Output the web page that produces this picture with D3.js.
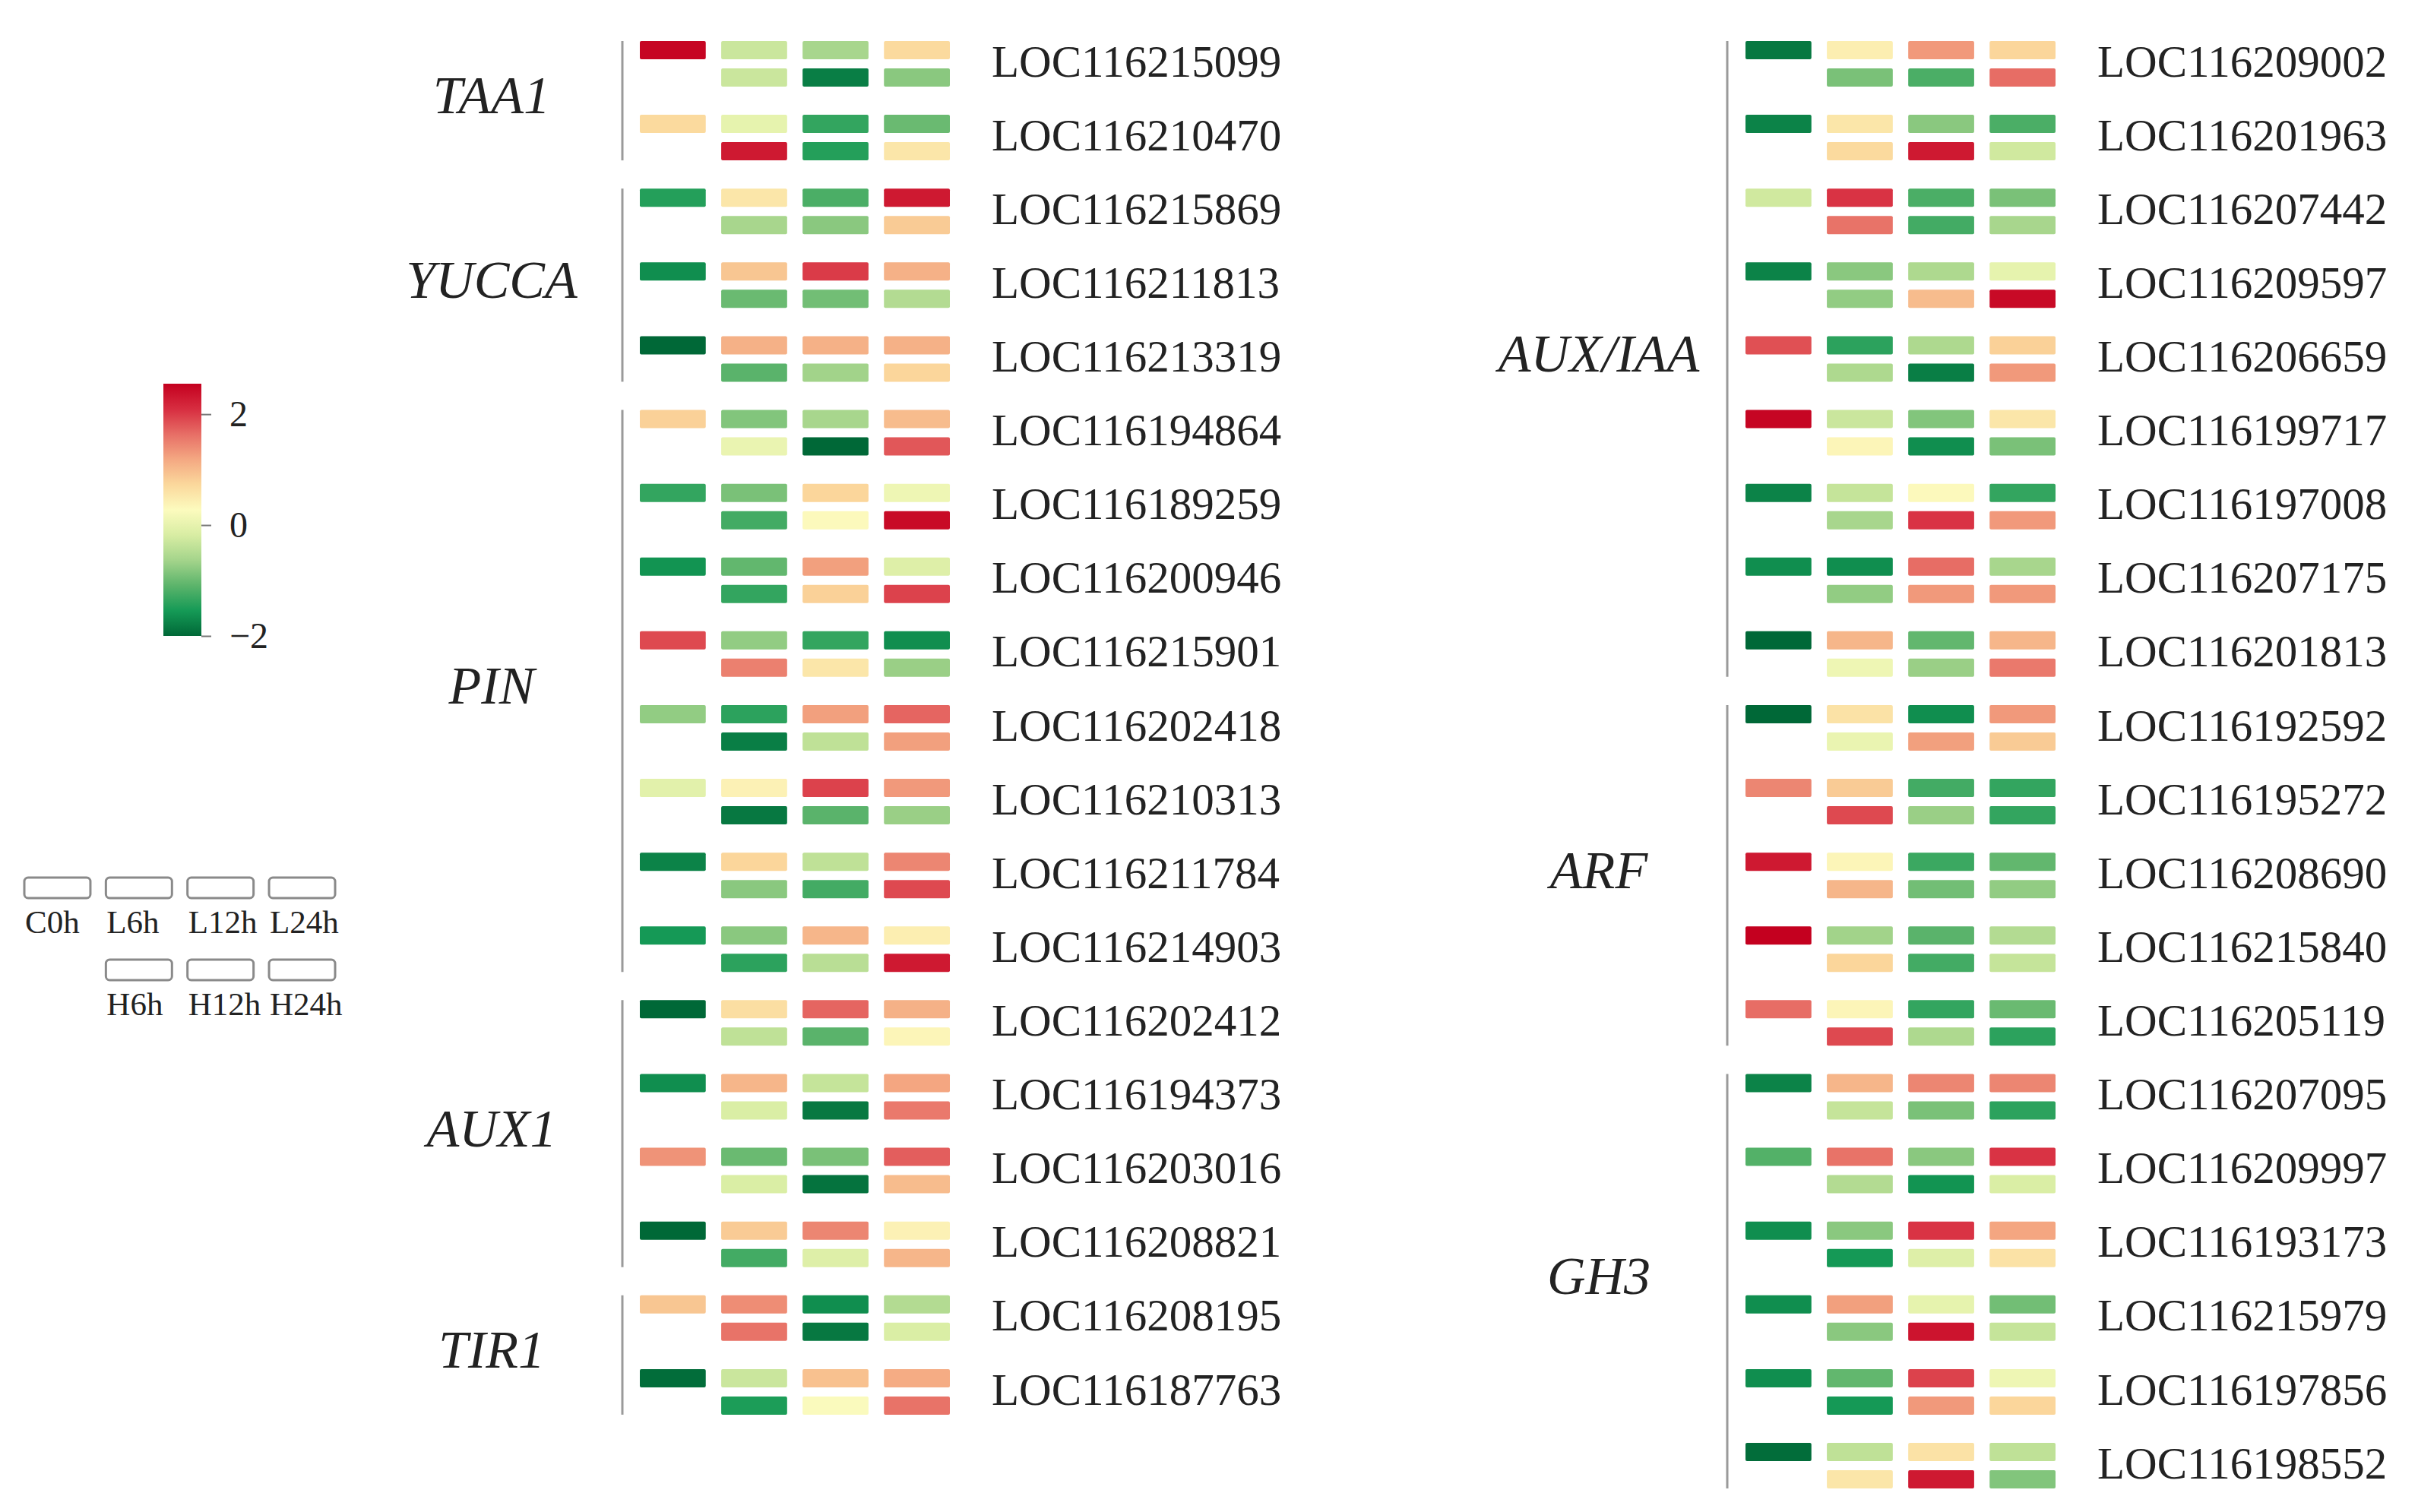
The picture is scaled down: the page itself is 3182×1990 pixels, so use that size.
<!DOCTYPE html>
<html>
<head>
<meta charset="utf-8">
<script src="https://cdn.jsdelivr.net/npm/d3@7"></script>
<style>
    body { margin: 0; background: #fff; }
    svg { display: block; }
    text { font-family: "Liberation Serif", "Times New Roman", serif; fill: #222; }
</style>
</head>
<body>
<div class="chart"></div>
<script>
(function () {
    'use strict';

    // condition order inside every gene block: top row C0h..L24h, bottom row H6h..H24h
    const conditions = ['C0h', 'L6h', 'L12h', 'L24h', 'H6h', 'H12h', 'H24h'];
    const colorDomain = [-2, 2.55];
    const colorTicks = [-2, 0, 2];
    const paletteColors = ['#006837', '#159a56', '#5cb46b', '#a4d48b', '#d8eda3', '#fcfbbe',
        '#fbd89c', '#f4a882', '#e76e66', '#d72d40', '#c4001f'];

    const leftFamilies = ['TAA1', 'YUCCA', 'PIN', 'AUX1', 'TIR1'];
    const leftFamilySizes = [2, 3, 8, 4, 2];
    const leftGenes = ['LOC116215099', 'LOC116210470', 'LOC116215869', 'LOC116211813', 'LOC116213319',
        'LOC116194864', 'LOC116189259', 'LOC116200946', 'LOC116215901', 'LOC116202418', 'LOC116210313',
        'LOC116211784', 'LOC116214903', 'LOC116202412', 'LOC116194373', 'LOC116203016', 'LOC116208821',
        'LOC116208195', 'LOC116187763'];
    const leftValues = [
        [2.5, -0.3, -0.6, 0.7, -0.3, -1.8, -0.8],
        [0.7, 0.0, -1.35, -1.0, 2.3, -1.45, 0.55],
        [-1.45, 0.55, -1.2, 2.3, -0.6, -0.8, 0.85],
        [-1.65, 0.9, 2.0, 1.1, -1.0, -0.95, -0.5],
        [-2.0, 1.1, 1.1, 1.1, -1.1, -0.65, 0.75],
        [0.8, -0.85, -0.6, 1.0, 0.05, -2.0, 1.8],
        [-1.35, -0.9, 0.75, 0.1, -1.25, 0.3, 2.45],
        [-1.6, -1.05, 1.25, -0.1, -1.35, 0.8, 1.95],
        [1.9, -0.75, -1.35, -1.65, 1.5, 0.55, -0.7],
        [-0.75, -1.4, 1.25, 1.7, -1.8, -0.4, 1.25],
        [-0.05, 0.4, 1.95, 1.3, -1.85, -1.1, -0.7],
        [-1.75, 0.75, -0.4, 1.45, -0.8, -1.25, 1.9],
        [-1.55, -0.8, 1.05, 0.45, -1.4, -0.45, 2.3],
        [-2.0, 0.65, 1.7, 1.1, -0.4, -1.1, 0.35],
        [-1.65, 1.05, -0.35, 1.2, -0.15, -1.85, 1.55],
        [1.35, -1.0, -0.9, 1.75, -0.15, -1.9, 1.0],
        [-2.0, 0.85, 1.45, 0.4, -1.25, -0.1, 1.05],
        [0.9, 1.4, -1.65, -0.5, 1.6, -1.85, -0.15],
        [-1.95, -0.3, 0.95, 1.15, -1.5, 0.25, 1.6]
    ];

    const rightFamilies = ['AUX/IAA', 'ARF', 'GH3'];
    const rightFamilySizes = [9, 5, 6];
    const rightGenes = ['LOC116209002', 'LOC116201963', 'LOC116207442', 'LOC116209597', 'LOC116206659',
        'LOC116199717', 'LOC116197008', 'LOC116207175', 'LOC116201813', 'LOC116192592', 'LOC116195272',
        'LOC116208690', 'LOC116215840', 'LOC116205119', 'LOC116207095', 'LOC116209997', 'LOC116193173',
        'LOC116215979', 'LOC116197856', 'LOC116198552'];
    const rightValues = [
        [-1.85, 0.45, 1.3, 0.75, -0.9, -1.2, 1.65],
        [-1.75, 0.55, -0.8, -1.2, 0.7, 2.3, -0.25],
        [-0.25, 2.05, -1.2, -0.9, 1.6, -1.25, -0.6],
        [-1.75, -0.8, -0.55, 0.0, -0.75, 1.0, 2.45],
        [1.85, -1.4, -0.55, 0.8, -0.55, -1.8, 1.3],
        [2.5, -0.3, -0.85, 0.55, 0.35, -1.65, -0.9],
        [-1.75, -0.35, 0.3, -1.35, -0.6, 2.05, 1.3],
        [-1.65, -1.65, 1.65, -0.6, -0.75, 1.3, 1.3],
        [-2.0, 1.05, -1.05, 1.05, 0.1, -0.7, 1.55],
        [-2.0, 0.6, -1.65, 1.3, 0.05, 1.25, 0.85],
        [1.45, 0.85, -1.25, -1.35, 1.9, -0.7, -1.35],
        [2.3, 0.35, -1.3, -1.05, 1.05, -0.95, -0.75],
        [2.55, -0.65, -1.1, -0.5, 0.75, -1.25, -0.35],
        [1.65, 0.35, -1.35, -1.0, 1.9, -0.55, -1.4],
        [-1.75, 1.05, 1.45, 1.45, -0.35, -0.9, -1.4],
        [-1.15, 1.6, -0.8, 2.05, -0.5, -1.6, -0.15],
        [-1.65, -0.8, 2.05, 1.2, -1.55, -0.1, 0.6],
        [-1.65, 1.25, 0.0, -0.95, -0.8, 2.35, -0.35],
        [-1.65, -1.05, 1.95, 0.1, -1.55, 1.3, 0.75],
        [-1.95, -0.4, 0.6, -0.4, 0.55, 2.3, -0.85]
    ];

    const W = 3182;
    const H = 1990;

    const svg = d3.select('.chart').append('svg')
        .attr('width', W)
        .attr('height', H);

    const colorScale = d3.scaleLinear()
        .domain(paletteColors.map(function (c, i) {
            return colorDomain[0] + i * (colorDomain[1] - colorDomain[0]) / (paletteColors.length - 1);
        }))
        .range(paletteColors)
        .interpolate(d3.interpolateRgb)
        .clamp(true);

    const yGene = d3.scaleLinear().domain([0, 19]).range([54, 1899]);
    const rowGap = 36;
    const cellH = 24;

    function cellCol(k) {
        return k < 4 ? k : k - 3;
    }

    function cellRow(k) {
        return k < 4 ? 0 : 1;
    }

    function drawPanel(genes, families, sizes, values, cfg) {
        const x = d3.scaleBand().domain([0, 1, 2, 3]).range(cfg.cells).paddingInner(0.19);
        const g = svg.append('g');

        const cells = [];
        values.forEach(function (row, i) {
            row.forEach(function (v, k) {
                cells.push({ gene: i, k: k, v: v });
            });
        });

        g.selectAll('rect.cell').data(cells)
            .enter().append('rect').attr('class', 'cell')
            .attr('x', function (d) { return x(cellCol(d.k)); })
            .attr('y', function (d) { return yGene(d.gene) + cellRow(d.k) * rowGap; })
            .attr('width', x.bandwidth())
            .attr('height', cellH)
            .attr('rx', 2)
            .attr('fill', function (d) { return colorScale(d.v); });

        g.selectAll('text.gene').data(genes)
            .enter().append('text').attr('class', 'gene')
            .attr('x', cfg.labelX)
            .attr('y', function (d, i) { return yGene(i) + (rowGap + cellH) / 2 - 4; })
            .attr('dy', '0.35em')
            .style('font-size', '59px')
            .text(function (d) { return d; });

        let start = 0;
        families.forEach(function (f, j) {
            const end = start + sizes[j] - 1;
            g.append('line')
                .attr('x1', cfg.lineX).attr('x2', cfg.lineX)
                .attr('y1', yGene(start))
                .attr('y2', yGene(end) + rowGap + cellH)
                .attr('stroke', '#9a9a9a')
                .attr('stroke-width', 3);
            g.append('text')
                .attr('x', cfg.familyX)
                .attr('y', (yGene(start) + yGene(end)) / 2 + (rowGap + cellH) / 2 - 8)
                .attr('dy', '0.35em')
                .attr('text-anchor', 'middle')
                .style('font-size', '70px')
                .style('font-style', 'italic')
                .text(f);
            start = end + 1;
        });
    }

    drawPanel(leftGenes, leftFamilies, leftFamilySizes, leftValues,
        { cells: [842, 1250], lineX: 819, labelX: 1305, familyX: 647 });
    drawPanel(rightGenes, rightFamilies, rightFamilySizes, rightValues,
        { cells: [2297, 2705], lineX: 2273, labelX: 2760, familyX: 2104 });

    // colour bar
    const barScale = d3.scaleLinear().domain(colorDomain).range([837, 505]);
    const grad = svg.append('defs').append('linearGradient')
        .attr('id', 'bar-grad')
        .attr('x1', 0).attr('y1', 1).attr('x2', 0).attr('y2', 0);
    grad.selectAll('stop').data(colorScale.domain())
        .enter().append('stop')
        .attr('offset', function (d) { return (d - colorDomain[0]) / (colorDomain[1] - colorDomain[0]); })
        .attr('stop-color', function (d) { return colorScale(d); });

    svg.append('rect')
        .attr('x', 215).attr('y', barScale(colorDomain[1]))
        .attr('width', 50).attr('height', barScale(colorDomain[0]) - barScale(colorDomain[1]))
        .attr('fill', 'url(#bar-grad)');

    svg.append('g')
        .attr('transform', 'translate(265,0)')
        .call(d3.axisRight(barScale).tickValues(colorTicks).tickFormat(d3.format('d'))
            .tickSize(13).tickPadding(24))
        .call(function (a) { a.select('.domain').remove(); })
        .call(function (a) { a.selectAll('line').attr('stroke', '#777').attr('stroke-width', 2); })
        .call(function (a) {
            a.selectAll('text')
                .attr('fill', '#222')
                .style('font-family', '"Liberation Serif", "Times New Roman", serif')
                .style('font-size', '48px');
        });

    // position legend
    const legendX = d3.scaleBand().domain([0, 1, 2, 3]).range([32, 441]).paddingInner(0.19);
    const legendRows = [1155, 1263];
    const legend = svg.append('g');
    conditions.forEach(function (c, k) {
        const lx = legendX(cellCol(k));
        const ly = legendRows[cellRow(k)];
        legend.append('rect')
            .attr('x', lx).attr('y', ly)
            .attr('width', legendX.bandwidth()).attr('height', 27)
            .attr('rx', 5)
            .attr('fill', 'none')
            .attr('stroke', '#8a8a8a')
            .attr('stroke-width', 3);
        legend.append('text')
            .attr('x', lx + 1).attr('y', ly + 73)
            .style('font-size', '43px')
            .text(c);
    });
}());
</script>
</body>
</html>
